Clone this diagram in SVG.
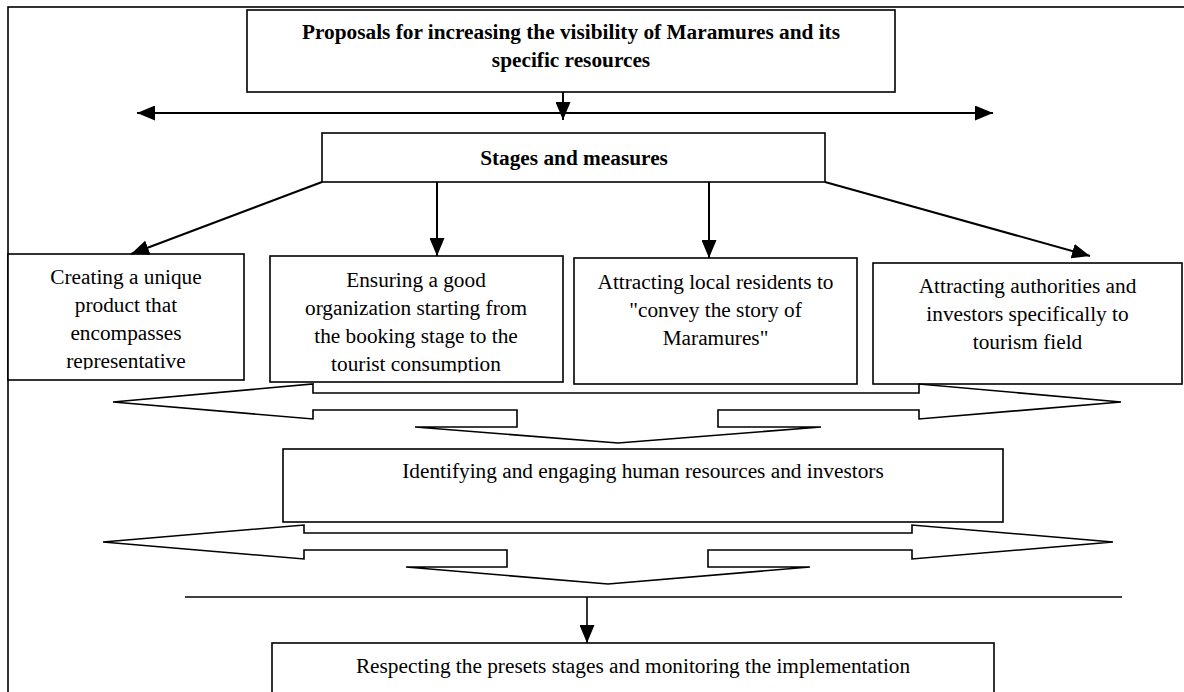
<svg xmlns="http://www.w3.org/2000/svg" width="1184" height="692" viewBox="0 0 1184 692">
<style>
.box{fill:#fff;stroke:#000;stroke-width:1.6}
.t{font-family:"Liberation Serif","Times New Roman",serif;font-size:21.3px;fill:#000;text-anchor:middle}
.b{font-weight:bold}
.con{fill:none;stroke:#000;stroke-width:2}
.hollow{fill:#fff;stroke:#000;stroke-width:1.6;stroke-linejoin:miter}
</style>
<defs>
<marker id="ah" markerUnits="userSpaceOnUse" markerWidth="18" markerHeight="15" refX="18" refY="7.5" orient="auto-start-reverse" viewBox="0 0 18 15">
<path d="M0,0 L18,7.5 L0,15 z" fill="#000"/>
</marker>
<clipPath id="c1"><rect x="8" y="254" width="236" height="115.5"/></clipPath>
<clipPath id="c2"><rect x="270" y="256" width="293" height="116.5"/></clipPath>
</defs>
<rect x="0" y="0" width="1184" height="692" fill="#fff"/>
<g id="frame"><rect x="8" y="7" width="1200" height="700" fill="none" stroke="#000" stroke-width="1.6"/></g>

<g id="n-title">
<rect class="box" x="247" y="10" width="648" height="82"/>
<text class="t b" x="571" y="39">Proposals for increasing the visibility of Maramures and its</text>
<text class="t b" x="571" y="67">specific resources</text>
</g>

<g id="n-stages">
<rect class="box" x="322" y="133" width="503" height="49"/>
<text class="t b" x="574" y="165">Stages and measures</text>
</g>

<g id="n-box1">
<rect class="box" x="8" y="254" width="236" height="126"/>
<g clip-path="url(#c1)">
<text class="t" x="126" y="284">Creating a unique</text>
<text class="t" x="126" y="312">product that</text>
<text class="t" x="126" y="340">encompasses</text>
<text class="t" x="126" y="368">representative</text>
</g>
</g>

<g id="n-box2">
<rect class="box" x="270" y="256" width="293" height="126"/>
<g clip-path="url(#c2)">
<text class="t" x="416" y="287">Ensuring a good</text>
<text class="t" x="416" y="315">organization starting from</text>
<text class="t" x="416" y="343">the booking stage to the</text>
<text class="t" x="416" y="371">tourist consumption</text>
</g>
</g>

<g id="n-box3">
<rect class="box" x="574" y="258" width="283" height="126"/>
<text class="t" x="715.5" y="289">Attracting local residents to</text>
<text class="t" x="715.5" y="317">"convey the story of</text>
<text class="t" x="715.5" y="345">Maramures"</text>
</g>

<g id="n-box4">
<rect class="box" x="873" y="263" width="309" height="121"/>
<text class="t" x="1027.5" y="293">Attracting authorities and</text>
<text class="t" x="1027.5" y="321">investors specifically to</text>
<text class="t" x="1027.5" y="349">tourism field</text>
</g>

<g id="n-identify">
<rect class="box" x="283" y="449" width="720" height="73"/>
<text class="t" x="643" y="478">Identifying and engaging human resources and investors</text>
</g>

<g id="n-respect">
<rect class="box" x="272" y="643" width="722" height="80"/>
<text class="t" x="633" y="673">Respecting the presets stages and monitoring the implementation</text>
</g>

<g id="connectors">
<line class="con" x1="137" y1="113" x2="993" y2="113" marker-start="url(#ah)" marker-end="url(#ah)"/>
<line class="con" x1="563" y1="92" x2="563" y2="120" marker-end="url(#ah)"/>
<line class="con" x1="322" y1="182" x2="131" y2="254" marker-end="url(#ah)"/>
<line class="con" x1="437" y1="182" x2="437" y2="256" marker-end="url(#ah)"/>
<line class="con" x1="709" y1="182" x2="709" y2="258" marker-end="url(#ah)"/>
<line class="con" x1="825" y1="182" x2="1090" y2="256" marker-end="url(#ah)"/>
<polygon class="hollow" points="113,402 313,384 313,393 919,393 919,384 1121,402 919,419 919,410 718,410 718,427 821,427 618,443 415,427 517,427 517,410 313,410 313,419"/>
<polygon class="hollow" points="103,542 304,525 304,533 912,533 912,525 1113,542 912,559 912,550 708,550 708,567 810,567 608,584 406,567 507,567 507,550 304,550 304,559"/>
<line class="con" x1="185" y1="597" x2="1122" y2="597" style="stroke-width:1.6"/>
<line class="con" x1="587" y1="597" x2="587" y2="643" style="stroke-width:1.6" marker-end="url(#ah)"/>
</g>
</svg>
